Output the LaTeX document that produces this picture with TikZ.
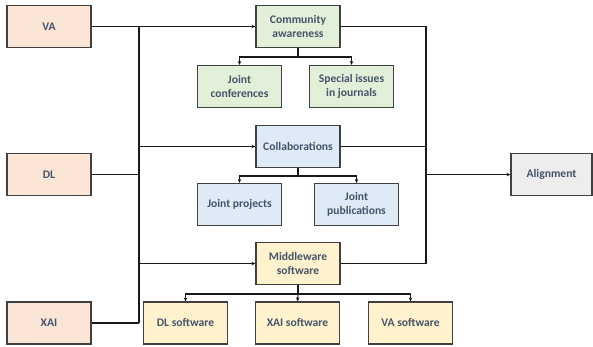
\documentclass[tikz,border=0pt]{standalone}
\usepackage{fontspec}
\setmainfont{Carlito}
\usetikzlibrary{arrows.meta}
\definecolor{peach}{HTML}{FBE5D6}
\definecolor{grn}{HTML}{E2F0D9}
\definecolor{blu}{HTML}{DEEBF7}
\definecolor{yel}{HTML}{FFF2CC}
\definecolor{gry}{HTML}{EDEDED}
\definecolor{txt}{HTML}{44546A}
\begin{document}
\begin{tikzpicture}[x=1pt,y=-1pt,
  box/.style={draw=black!75,line width=1.1pt,minimum width=84pt,minimum height=42pt,
    text=txt,font=\fontsize{11.6}{13.5}\selectfont\bfseries,align=center,inner sep=1pt},
  conn/.style={line width=1.1pt,black!90},
  arr/.style={conn,-{Stealth[length=4pt,width=3.5pt]}}]
\useasboundingbox (0,0) rectangle (593,346);
% left
\node[box,fill=peach] (va) at (49,26.5) {VA};
\node[box,fill=peach] (dl) at (49,174.5) {DL};
\node[box,fill=peach] (xai) at (49,323) {XAI};
% middle
\node[box,fill=grn] (ca) at (298,26.5) {Community\\awareness};
\node[box,fill=grn] (jc) at (239.5,86.5) {Joint\\conferences};
\node[box,fill=grn] (si) at (351.5,86.5) {Special issues\\in journals};
\node[box,fill=blu] (co) at (298,146.5) {Collaborations};
\node[box,fill=blu] (jp) at (239.5,204.5) {Joint projects};
\node[box,fill=blu] (jpub) at (356.5,204.5) {Joint\\publications};
\node[box,fill=yel] (mw) at (298,263.5) {Middleware\\software};
\node[box,fill=yel] (dls) at (185.5,323) {DL software};
\node[box,fill=yel] (xais) at (297.5,323) {XAI software};
\node[box,fill=yel] (vas) at (410.5,323) {VA software};
\node[box,fill=gry,minimum width=81pt] (al) at (551.5,174.5) {Alignment};
% coordinates
\coordinate (lbt) at (139,26.5);
\coordinate (lbb) at (139,323);
\coordinate (rbt) at (426,26.5);
\coordinate (rbb) at (426,263.5);
\coordinate (b1) at (298,57);
\coordinate (b2) at (298,176);
\coordinate (b3) at (298,294);
% left bus
\draw[conn] (lbt) -- (lbb);
\draw[arr] (va.east) -- (ca.west);
\draw[conn,line width=1.6pt] (dl.east) -- (dl.east -| lbt);
\draw[conn] (xai.east) -- (xai.east -| lbt);
\draw[arr] (co.west -| lbt) -- (co.west);
\draw[arr] (mw.west -| lbt) -- (mw.west);
% right bus
\draw[conn] (ca.east) -| (rbt) -- (rbb);
\draw[conn] (co.east) -- (co.east -| rbt);
\draw[conn] (mw.east) -- (rbb);
\draw[arr,line width=1.4pt] (al.west -| rbt) -- (al.west);
% branches
\draw[conn] (ca.south) -- (b1);
\draw[arr] (b1) -| (jc.north);
\draw[arr] (b1) -| (si.north);
\draw[conn] (co.south) -- (b2);
\draw[arr] (b2) -| (jp.north);
\draw[arr] (b2) -| (jpub.north);
\draw[conn] (mw.south) -- (b3);
\draw[arr] (b3) -| (dls.north);
\draw[arr] (b3) -- (xais.north);
\draw[arr] (b3) -| (vas.north);
\end{tikzpicture}
\end{document}
